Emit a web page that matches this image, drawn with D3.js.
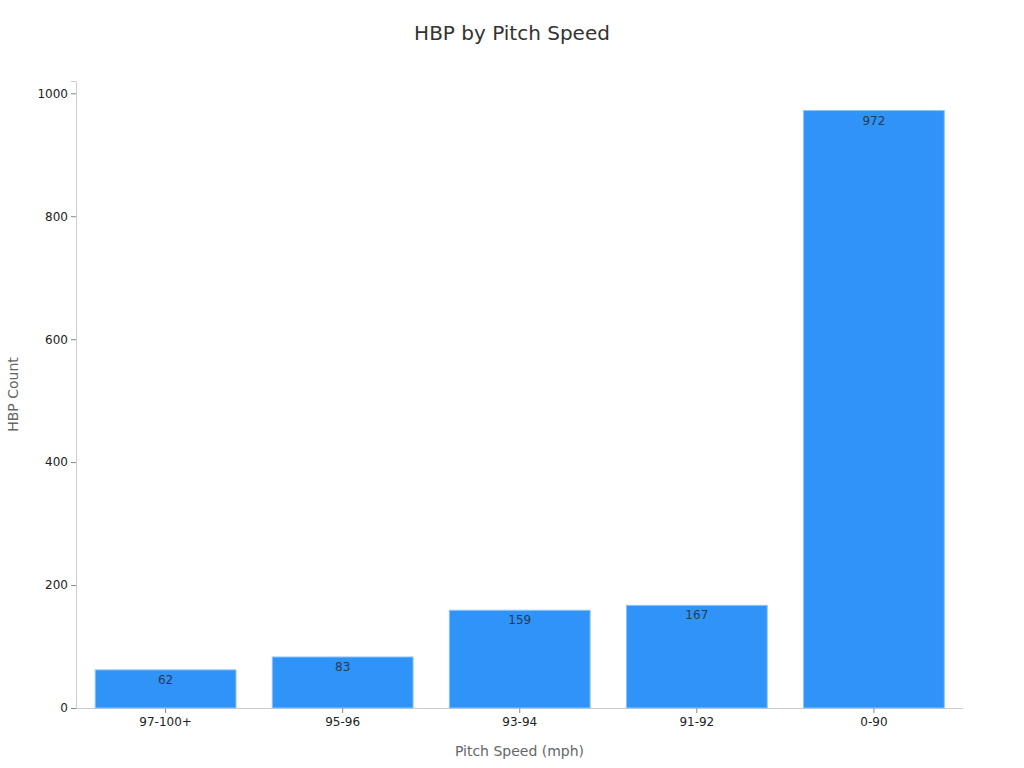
<!DOCTYPE html>
<html>
<head>
<meta charset="utf-8">
<script src="https://cdn.jsdelivr.net/npm/d3@7"></script>
<style>
  body { margin: 0; background: #fff; font-family: "DejaVu Sans", sans-serif; }
</style>
</head>
<body>
<script>
// Chart data
let categories = ['97-100+', '95-96', '93-94', '91-92', '0-90']
let counts = [62, 83, 159, 167, 972]
let yTicks = [0, 200, 400, 600, 800, 1000]

let width = 1024
let height = 768

let margin = { left: 76, top: 81, right: 61, bottom: 60 }

let chartWidth = width - margin.left - margin.right
let chartHeight = height - margin.top - margin.bottom

let svg = d3.select('body')
    .append('svg')
    .attr('width', width)
    .attr('height', height)

let chartGroup = svg.append('g')
    .attr('transform', `translate(${margin.left}, ${margin.top})`)

let xScale = d3.scaleBand()
    .domain(categories)
    .range([1.5, chartWidth - 1])
    .paddingInner(0.205)
    .paddingOuter(0.1)

let yScale = d3.scaleLinear()
    .domain([0, 1020])
    .range([chartHeight, 0])

// Axes
let xAxis = chartGroup.append('g')
    .attr('transform', `translate(0, ${chartHeight})`)
    .call(d3.axisBottom(xScale).tickSizeOuter(0).tickSize(5).tickPadding(4))

let yAxis = chartGroup.append('g')
    .call(d3.axisLeft(yScale).tickValues(yTicks).tickFormat(d3.format('d'))
        .tickSizeOuter(0).tickSize(5).tickPadding(3))

xAxis.select('.domain').attr('d', `M0,0.5H${chartWidth}`)

;[xAxis, yAxis].forEach(ax => {
    ax.select('.domain').attr('stroke', '#cccccc')
    ax.selectAll('.tick line').attr('stroke', '#888888')
    ax.selectAll('.tick text')
        .attr('fill', '#222222')
        .style('font-size', '12px')
        .style('font-family', '"DejaVu Sans", sans-serif')
})

// Bars
chartGroup.selectAll('rect.bar')
    .data(counts)
    .join('rect')
    .attr('class', 'bar')
    .attr('x', (d, i) => xScale(categories[i]))
    .attr('y', d => yScale(d))
    .attr('width', xScale.bandwidth())
    .attr('height', d => chartHeight - yScale(d))
    .attr('fill', '#2f93f8')
    .attr('stroke', '#8cc4fb')
    .attr('stroke-width', 1)

// Value labels
chartGroup.selectAll('text.value')
    .data(counts)
    .join('text')
    .attr('class', 'value')
    .attr('x', (d, i) => xScale(categories[i]) + xScale.bandwidth() / 2)
    .attr('y', d => yScale(d) + 14)
    .attr('text-anchor', 'middle')
    .attr('fill', '#2a3a4f')
    .style('font-size', '12px')
    .text(d => d)

// Title
svg.append('text')
    .attr('x', 512)
    .attr('y', 40)
    .attr('text-anchor', 'middle')
    .attr('fill', '#333333')
    .style('font-size', '20px')
    .text('HBP by Pitch Speed')

// Axis titles
svg.append('text')
    .attr('x', margin.left + chartWidth / 2)
    .attr('y', 756)
    .attr('text-anchor', 'middle')
    .attr('fill', '#666666')
    .style('font-size', '14px')
    .text('Pitch Speed (mph)')

svg.append('text')
    .attr('transform', `translate(18, ${margin.top + chartHeight / 2}) rotate(-90)`)
    .attr('text-anchor', 'middle')
    .attr('fill', '#666666')
    .style('font-size', '14px')
    .text('HBP Count')
</script>
</body>
</html>
